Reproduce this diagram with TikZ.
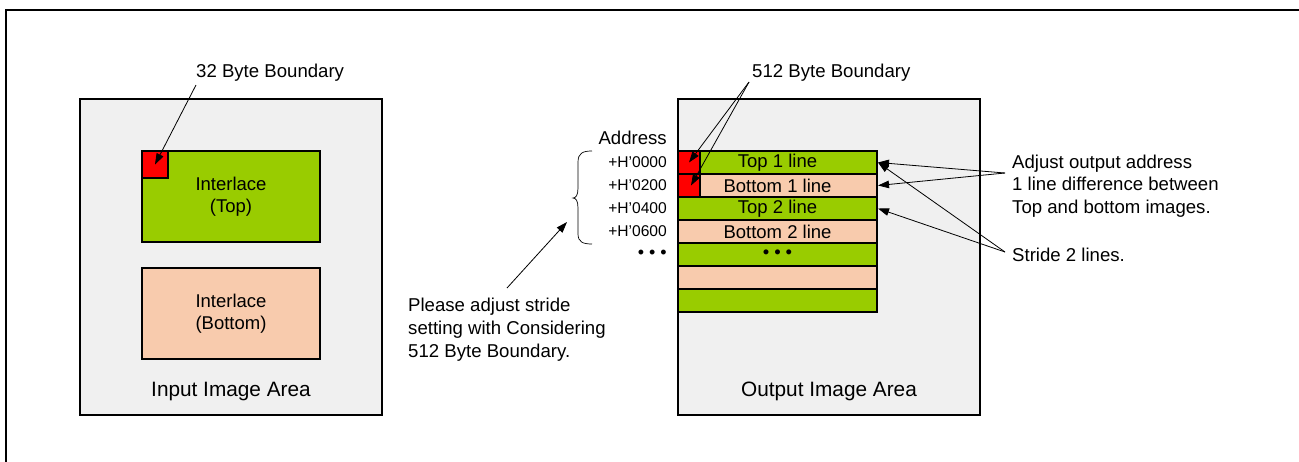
\documentclass[tikz,border=0pt]{standalone}
\usepackage{fontspec}
\setmainfont{Liberation Sans}
\usetikzlibrary{arrows.meta,calc}
\definecolor{ggreen}{HTML}{99CC00}
\definecolor{gpeach}{HTML}{F8CBAD}
\definecolor{ggrey}{HTML}{F0F0F0}
\definecolor{gred}{HTML}{FF0000}
\begin{document}
\begin{tikzpicture}[x=1pt,y=-1pt,
  box/.style={draw=black,line width=1.8pt,anchor=north west,inner sep=0pt,outer sep=0pt},
  area/.style={box,fill=ggrey,minimum width=302pt,minimum height=316pt},
  big/.style={box,minimum width=178pt,minimum height=91pt,align=center,font=\fontsize{18.5}{22}\selectfont},
  rowbox/.style={box,minimum width=199pt,minimum height=23pt,font=\fontsize{18.5}{22}\selectfont},
  redsq/.style={box,fill=gred},
  lbl/.style={inner sep=0pt,font=\fontsize{18.6}{22.8}\selectfont},
  arealbl/.style={inner sep=0pt,font=\fontsize{20.8}{24}\selectfont},
  addr/.style={inner sep=0pt,anchor=east,font=\fontsize{15.6}{18}\selectfont},
  arr/.style={-{Triangle[length=11pt,width=7.5pt]},line width=0.8pt}
]
\useasboundingbox (0,0) rectangle (1299,461);
\fill[white] (0,0) rectangle (1299,461);
% outer frame (open to the right and bottom)
\draw[line width=2.2pt] (1310,10) -- (6,10) -- (6,470);

% ---------- input image area ----------
\node[area] (inarea) at (80,99) {};
\node[big,fill=ggreen] (intop) at (142,151) {Interlace\\(Top)};
\node[big,fill=gpeach] (inbot) at (142,268) {Interlace\\(Bottom)};
\node[redsq,minimum width=26pt,minimum height=27pt] (red1) at (142,151) {};
\node[arealbl] (inlbl) at (231,391) {Input Image Area};
\node[lbl,anchor=west] (lbl32) at (196,73) {32 Byte Boundary};
\coordinate (a32) at (196,85);
\draw[arr] (a32) -- (red1.center);

% ---------- output image area ----------
\node[area] (outarea) at (678,99) {};
\node[rowbox,fill=ggreen] (r1) at (678,151) {Top 1 line};
\node[rowbox,fill=gpeach] (r2) at (678,174) {Bottom 1 line};
\node[rowbox,fill=ggreen] (r3) at (678,197) {Top 2 line};
\node[rowbox,fill=gpeach] (r4) at (678,220) {Bottom 2 line};
\node[rowbox,fill=ggreen] (r5) at (678,243) {•\hspace{5pt}•\hspace{5pt}•};
\node[rowbox,fill=gpeach] (r6) at (678,266) {};
\node[rowbox,fill=ggreen] (r7) at (678,289) {};
\node[redsq,minimum width=22pt,minimum height=23pt] (red2a) at (678,151) {};
\node[redsq,minimum width=22pt,minimum height=23pt] (red2b) at (678,174) {};
\node[arealbl] (outlbl) at (829,391) {Output Image Area};

% addresses
\node[lbl,anchor=east] (addrh) at (667,138) {Address};
\node[addr] (ad0) at (667,162.5) {+H’0000};
\node[addr] (ad1) at (667,185.5) {+H’0200};
\node[addr] (ad2) at (667,208.5) {+H’0400};
\node[addr] (ad3) at (667,231.5) {+H’0600};
\node[addr,font=\fontsize{18}{20}\selectfont] (ad4) at (667,254) {•\hspace{5pt}•\hspace{5pt}•};

% brace
\draw[line width=0.7pt] (592,151) .. controls (583,151) and (578,153) .. (578,162)
  -- (578,188) .. controls (578,195) and (576,198) .. (573,198)
  .. controls (576,198) and (578,201) .. (578,208)
  -- (578,234) .. controls (578,242) and (583,244) .. (592,244);
\coordinate (bracept) at (567,222);

% 512 byte boundary
\node[lbl,anchor=west] (lbl512) at (752,73) {512 Byte Boundary};
\coordinate (a512) at (749,82);
\draw[arr] (a512) -- (red2a.center);
\draw[arr] (a512) -- ([xshift=2pt]red2b.center);

% please adjust stride
\node[lbl,anchor=west,align=left] (please) at (408,329.5) {Please adjust stride\\setting with Considering\\512 Byte Boundary.};
\coordinate (aplease) at (507,288);
\draw[arr] (aplease) -- (bracept);

% right-hand notes
\node[lbl,anchor=west,align=left] (adjust) at (1012,186) {Adjust output address\\1 line difference between\\Top and bottom images.};
\node[lbl,anchor=west] (stride) at (1012,255) {Stride 2 lines.};
\coordinate (aadj) at (1005,173);
\coordinate (astr) at (1005,252);
\draw[arr] (aadj) -- ([xshift=1pt]r1.east);
\draw[arr] (aadj) -- ([xshift=1pt]r2.east);
\draw[arr] (astr) -- ([xshift=1pt]r1.east);
\draw[arr] (astr) -- ([xshift=1pt]r3.east);
\end{tikzpicture}
\end{document}
